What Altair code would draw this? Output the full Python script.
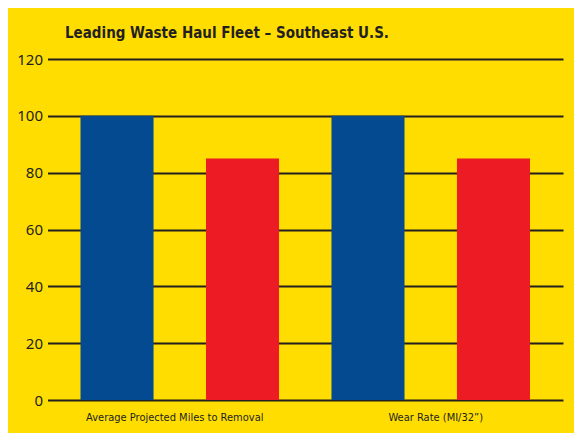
import altair as alt
import pandas as pd

categories = ["Average Projected Miles to Removal", "Wear Rate (MI/32\u201d)"]
series = ["Leading", "Competitor"]
values_leading = [100, 100]
values_comp = [85, 85]
y_ticks = [0, 20, 40, 60, 80, 100, 120]

rows = []
for i, c in enumerate(categories):
    rows.append({"category": c, "series": series[0], "value": values_leading[i]})
    rows.append({"category": c, "series": series[1], "value": values_comp[i]})
df = pd.DataFrame(rows)

YELLOW = "#FFDD00"
BLUE = "#034A91"
RED = "#ED1C24"
INK = "#231F20"
COND = "DejaVu Sans Condensed"

chart = alt.Chart(df).mark_bar().encode(
    x=alt.X("category:N", sort=categories,
            scale=alt.Scale(paddingInner=0, paddingOuter=0.027),
            axis=alt.Axis(title=None, labelAngle=0, ticks=False, domain=False,
                          labelFont=COND, labelFontSize=11, labelLimit=0,
                          labelColor=INK, labelPadding=11, labelBaseline="top",
                          labelOffset={"condition": {"test": "datum.index === 0", "value": -5},
                                       "value": 5})),
    xOffset=alt.XOffset("series:N", sort=series,
                        scale=alt.Scale(paddingInner=0.418, paddingOuter=0.209)),
    y=alt.Y("value:Q", scale=alt.Scale(domain=[0, 120]),
            axis=alt.Axis(title=None, values=y_ticks, grid=True, gridColor=INK,
                          gridWidth=2, gridOpacity=1, ticks=False, domain=False,
                          labelFont="Noto Sans", labelFontSize=15, labelColor=INK,
                          labelPadding=5)),
    color=alt.Color("series:N", scale=alt.Scale(domain=series, range=[BLUE, RED]),
                    legend=None),
).properties(
    width=515.5,
    height=341,
    title=alt.TitleParams("Leading Waste Haul Fleet \u2013 Southeast U.S.",
                          anchor="start", frame="group", dx=17.5, offset=11,
                          font=COND, fontSize=15,
                          fontWeight="bold", color=INK),
    autosize=alt.AutoSizeParams(type="none"),
    padding={"left": 39.5, "top": 51, "right": 11, "bottom": 33},
).configure(background=YELLOW).configure_view(stroke=None)

chart.save("out.html", embed_options={"renderer": "svg", "actions": False})
